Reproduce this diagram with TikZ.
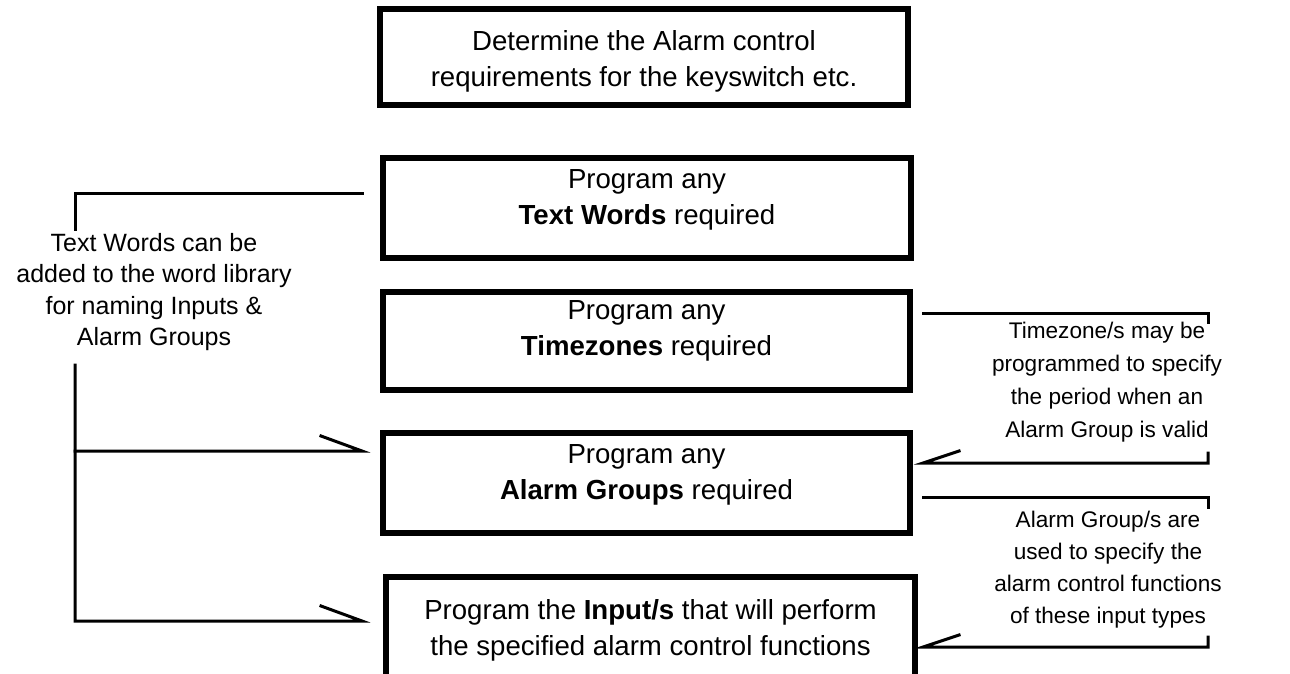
\documentclass[tikz,border=0pt]{standalone}
\usepackage{fontspec}
\setmainfont{Liberation Sans}
\begin{document}
\begin{tikzpicture}[x=0.5pt,y=-0.5pt,
  box/.style={draw=black,line width=3pt,rectangle,inner sep=0pt,fill=white},
  boxtext/.style={align=center,inner sep=0pt,font=\fontsize{13.8}{18}\selectfont},
  sidetext/.style={align=center,inner sep=0pt},
  conn/.style={line width=1.5pt,line cap=rect}]
\useasboundingbox (0,0) rectangle (1290,674);
\clip (0,0) rectangle (1290,674);
% boxes
\node[box,minimum width=264pt,minimum height=48pt] (b1) at (644,57) {};
\node[boxtext] (t1) at (644,61.5) {Determine the Alarm control\\requirements for the keyswitch etc.};
\node[box,minimum width=264pt,minimum height=50pt] (b2) at (647,208) {};
\node[boxtext] (t2) at (647,199.5) {Program any\\\textbf{Text Words} required};
\node[box,minimum width=263.5pt,minimum height=49pt] (b3) at (646.5,341) {};
\node[boxtext] (t3) at (646.5,330.5) {Program any\\\textbf{Timezones} required};
\node[box,minimum width=263.5pt,minimum height=50pt] (b4) at (646.5,483) {};
\node[boxtext] (t4) at (646.5,475) {Program any\\\textbf{Alarm Groups} required};
\node[box,minimum width=264.5pt,minimum height=51pt] (b5) at (650.5,628) {};
\node[boxtext] (t5) at (650.5,630) {Program the \textbf{Input/s} that will perform\\the specified alarm control functions};
% side texts
\node[sidetext,font=\fontsize{12.5}{15.7}\selectfont] (lt) at (154,292) {Text Words can be\\added to the word library\\for naming Inputs \&\\Alarm Groups};
\node[sidetext,font=\fontsize{11.3}{16.5}\selectfont] (rt1) at (1107,382) {Timezone/s may be\\programmed to specify\\the period when an\\Alarm Group is valid};
\node[sidetext,font=\fontsize{11.3}{16}\selectfont] (rt2) at (1108,570) {Alarm Group/s are\\used to specify the\\alarm control functions\\of these input types};
% left coordinates
\coordinate (l1) at (75,229);
\coordinate (l2) at (75,193);
\coordinate (l3) at (362,193);
\coordinate (l4) at (75,365);
\coordinate (l5) at (75,621);
\coordinate (l6) at (75,451);
\coordinate (a1) at (362,451);
\coordinate (a1b) at (321,436);
\coordinate (a2) at (362,621);
\coordinate (a2b) at (321,606);
\draw[conn] (l1) -- (l2) -- (l3);
\draw[conn] (l4) -- (l5) -- (a2) -- (a2b);
\draw[conn] (l6) -- (a1) -- (a1b);
% right coordinates
\coordinate (r1) at (923,313);
\coordinate (r2) at (1208,313);
\coordinate (r3) at (1208,322);
\draw[conn] (r1) -- (r2) -- (r3);
\coordinate (r4b) at (959,451);
\coordinate (r4) at (923,463);
\coordinate (r5) at (1208,463);
\coordinate (r6) at (1208,453);
\draw[conn] (r4b) -- (r4) -- (r5) -- (r6);
\coordinate (r7) at (923,497);
\coordinate (r8) at (1208,497);
\coordinate (r9) at (1208,507);
\draw[conn] (r7) -- (r8) -- (r9);
\coordinate (r10b) at (959,635);
\coordinate (r10) at (923,647);
\coordinate (r11) at (1208,647);
\coordinate (r12) at (1208,637);
\draw[conn] (r10b) -- (r10) -- (r11) -- (r12);
\end{tikzpicture}
\end{document}
